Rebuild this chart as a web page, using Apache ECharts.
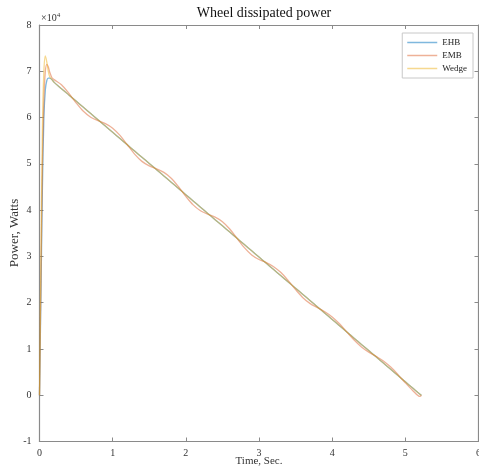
<!DOCTYPE html>
<html>
<head>
<meta charset="utf-8">
<script src="https://cdn.jsdelivr.net/npm/echarts@6/dist/echarts.min.js"></script>
<style>
  html, body { margin: 0; padding: 0; background: #fff; }
  #chart { width: 479px; height: 470px; }
</style>
</head>
<body>
<div id="chart"></div>
<script>
// time, seconds
var timeS = [0, 0.02, 0.04, 0.06, 0.08, 0.1, 0.12, 0.14, 0.17,
  0.2, 0.3, 0.4, 0.5, 0.6, 0.7, 0.8, 0.9, 1.0, 1.1, 1.2, 1.3, 1.4, 1.5, 1.6, 1.7, 1.8, 1.9,
  2.0, 2.1, 2.2, 2.3, 2.4, 2.5, 2.6, 2.7, 2.8, 2.9, 3.0, 3.1, 3.2, 3.3, 3.4, 3.5, 3.6, 3.7,
  3.8, 3.9, 4.0, 4.1, 4.2, 4.3, 4.4, 4.5, 4.6, 4.7, 4.8, 4.9, 5.0, 5.1, 5.2, 5.22];

// power, watts
var ehb = [0, 22000, 45000, 60000, 66000, 68000, 68500, 68500, 68200,
  67600, 66250, 64900, 63560, 62210, 60860, 59510, 58160, 56820, 55470, 54120, 52770, 51420, 50080, 48730, 47380, 46030, 44680,
  43340, 41990, 40640, 39290, 37940, 36600, 35250, 33900, 32550, 31200, 29860, 28510, 27160, 25810, 24460, 23120, 21770, 20420,
  19070, 17720, 16380, 15030, 13680, 12330, 10980, 9640, 8290, 6940, 5590, 4240, 2900, 1550, 200, 0];

var emb = [0, 25000, 50000, 64000, 70000, 71500, 71000, 69800, 68600,
  68200, 67100, 65270, 63190, 61350, 60080, 59320, 58690, 57710, 56140, 54120, 52100, 50530, 49550, 48920, 48160, 46890, 45050,
  42970, 41130, 39860, 39100, 38470, 37490, 35920, 33900, 31880, 30310, 29330, 28660, 27780, 26500, 24750, 22830, 21080, 19790,
  18920, 18040, 16920, 15430, 13680, 11930, 10440, 9320, 8400, 7410, 6100, 4460, 2680, 1040, -270, 0];

var wedge = [0, 30000, 58000, 70000, 73300, 72000, 70000, 68800, 68200,
  67600, 66250, 64900, 63560, 62210, 60860, 59510, 58160, 56820, 55470, 54120, 52770, 51420, 50080, 48730, 47380, 46030, 44680,
  43340, 41990, 40640, 39290, 37940, 36600, 35250, 33900, 32550, 31200, 29860, 28510, 27160, 25810, 24460, 23120, 21770, 20420,
  19070, 17720, 16380, 15030, 13680, 12330, 10980, 9640, 8290, 6940, 5590, 4240, 2900, 1550, 200, 0];

var seriesNames = ['EHB', 'EMB', 'Wedge'];
var seriesColors = ['rgba(0,114,189,0.5)', 'rgba(217,83,25,0.45)', 'rgba(237,177,32,0.5)'];

function pairs(vals) {
  var out = [];
  for (var i = 0; i < timeS.length; i++) out.push([timeS[i], vals[i]]);
  return out;
}

var serif = '"Liberation Serif", "DejaVu Serif", serif';
var axisGray = '#8a8a8a';

var chart = echarts.init(document.getElementById('chart'));
var allData = [ehb, emb, wedge];
var series = [];
for (var k = 0; k < 3; k++) {
  series.push({
    name: seriesNames[k],
    type: 'line',
    data: pairs(allData[k]),
    showSymbol: false,
    symbol: 'none',
    smooth: 0.3,
    lineStyle: { color: seriesColors[k], width: 1.3 },
    itemStyle: { color: seriesColors[k] },
    z: 3 + k
  });
}

var option = {
  animation: false,
  backgroundColor: '#fff',
  textStyle: { fontFamily: serif },
  title: {
    text: 'Wheel dissipated power',
    left: 259, top: 1, textAlign: 'center',
    textStyle: { fontFamily: serif, fontSize: 14, fontWeight: 'normal', color: '#111' }
  },
  legend: {
    orient: 'vertical',
    right: 6, top: 33,
    padding: [5, 6, 5, 5],
    itemGap: 4,
    itemWidth: 30, itemHeight: 1.5,
    icon: 'rect',
    borderColor: '#c8c8c8', borderWidth: 1,
    backgroundColor: '#fff',
    textStyle: { fontFamily: serif, fontSize: 9, color: '#222' },
    data: seriesNames
  },
  graphic: [{
    type: 'text', left: 41, top: 12,
    style: {
      text: '×10{s|4}',
      rich: { s: { fontSize: 7, verticalAlign: 'top', fontFamily: serif, fill: '#333', padding: [0, 0, 5, 0] } },
      fontFamily: serif, fontSize: 10, fill: '#333'
    }
  }, {
    // x axis title
    type: 'text', x: 259, y: 461,
    style: { text: 'Time, Sec.', fontFamily: serif, fontSize: 11, fill: '#333', align: 'center', verticalAlign: 'middle' }
  }, {
    // y axis title
    type: 'text', x: 15, y: 233, rotation: Math.PI / 2,
    style: { text: 'Power, Watts', fontFamily: serif, fontSize: 13, fill: '#333', align: 'center', verticalAlign: 'middle' }
  }],
  grid: { left: 39.5, right: 0.5, top: 25, bottom: 28.5, outerBoundsMode: 'none', containLabel: false },
  xAxis: [{
    type: 'value', min: 0, max: 6, interval: 1,
    axisLine: { show: true, onZero: false, lineStyle: { color: axisGray, width: 1.2 } },
    axisTick: { show: true, inside: true, length: 4, lineStyle: { color: axisGray } },
    axisLabel: { fontFamily: serif, fontSize: 10, color: '#333', margin: 7 },
    splitLine: { show: false }
  }, {
    type: 'value', min: 0, max: 6, interval: 1, position: 'top',
    axisLine: { show: true, onZero: false, lineStyle: { color: axisGray, width: 1.2 } },
    axisTick: { show: true, inside: true, length: 4, lineStyle: { color: axisGray } },
    axisLabel: { show: false },
    splitLine: { show: false }
  }],
  yAxis: [{
    type: 'value', min: -10000, max: 80000, interval: 10000,
    axisLine: { show: true, onZero: false, lineStyle: { color: axisGray, width: 1.2 } },
    axisTick: { show: true, inside: true, length: 4, lineStyle: { color: axisGray } },
    axisLabel: {
      fontFamily: serif, fontSize: 10, color: '#333', margin: 8,
      formatter: function (v) { return String(v / 10000); }
    },
    splitLine: { show: false }
  }, {
    type: 'value', min: -10000, max: 80000, interval: 10000, position: 'right',
    axisLine: { show: true, onZero: false, lineStyle: { color: axisGray, width: 1.2 } },
    axisTick: { show: true, inside: true, length: 4, lineStyle: { color: axisGray } },
    axisLabel: { show: false },
    splitLine: { show: false }
  }],
  series: series
};
chart.setOption(option);
</script>
</body>
</html>
